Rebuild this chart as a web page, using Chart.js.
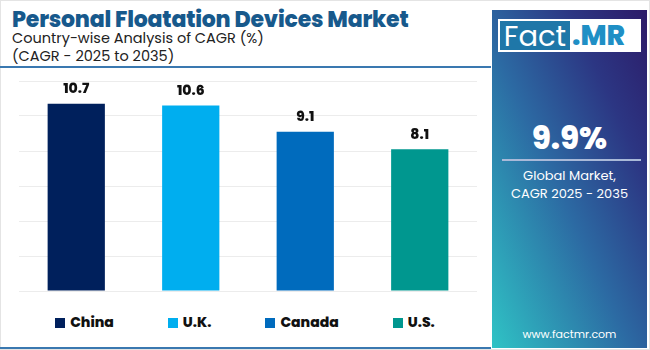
<!DOCTYPE html>
<html lang="en">
<head>
    <meta charset="UTF-8">
    <title>Personal Floatation Devices Market</title>
    <script src="https://cdn.jsdelivr.net/npm/chart.js"></script>
    <style>
        body {
            margin: 0;
            width: 650px;
            height: 350px;
            background: #fff;
            font-family: Poppins, Inter, Arial, sans-serif;
            overflow: hidden;
            position: relative;
        }
        .frame {
            position: absolute;
            left: 0; top: 0;
            width: 648px; height: 348px;
            border: 1px solid #e4e4e4;
        }
        .title {
            position: absolute;
            left: 12px; top: 3px;
            font-size: 22px;
            font-weight: 800;
            color: #17598c;
            white-space: nowrap;
            letter-spacing: -0.2px;
        }
        .sub {
            position: absolute;
            left: 12px;
            font-size: 14.5px;
            color: #222;
            white-space: nowrap;
        }
        .rule {
            position: absolute;
            left: 0; width: 491px;
            height: 2px;
            background: #3a78b0;
        }
        .chart-box {
            position: absolute;
            left: 0; top: 70px;
            width: 490px; height: 240px;
        }
        .legend {
            position: absolute;
            left: 0; top: 312px;
            width: 490px;
            display: flex;
            justify-content: center;
            gap: 54px;
            font-size: 14px;
            font-weight: 800;
            color: #111;
        }
        .legend span.box {
            display: inline-block;
            width: 10px; height: 10px;
            margin-right: 5px;
            vertical-align: -1px;
        }
        .side {
            position: absolute;
            left: 492px; top: 10px;
            width: 155px; height: 338px;
            background: linear-gradient(to top right, #2fc3c5 0%, #2c6aa3 45%, #2c3683 75%, #2c1b68 100%);
            color: #fff;
            text-align: center;
        }
        .logo {
            position: absolute;
            left: 6px; top: 9px;
            width: 143px; height: 33px;
            background: #fff;
        }
        .logo .fact {
            position: absolute;
            left: 2px; top: 2px;
            width: 70px; height: 29px;
            background: #1f77a8;
            color: #fff;
            font-size: 29px;
            line-height: 30px;
            font-weight: 400;
        }
        .logo .mr {
            position: absolute;
            left: 74px; top: 2px;
            height: 29px;
            color: #1f8fc5;
            font-size: 28px;
            line-height: 30px;
            font-weight: 800;
        }
        .big {
            position: absolute;
            left: 0; width: 155px; top: 105px;
            font-size: 31px;
            font-weight: 800;
        }
        .sline {
            position: absolute;
            left: 10px; width: 139px; top: 149px;
            height: 2px;
            background: #a9b9d8;
        }
        .gm {
            position: absolute;
            left: 0; width: 155px; top: 157px;
            font-size: 13px;
            line-height: 18px;
        }
        .url {
            position: absolute;
            left: 0; width: 155px; top: 316px;
            font-size: 11px;
        }
    </style>
</head>
<body>
    <div class="frame"></div>
    <div class="title">Personal Floatation Devices Market</div>
    <div class="sub" style="top:28px">Country-wise Analysis of CAGR (%)</div>
    <div class="sub" style="top:46px">(CAGR - 2025 to 2035)</div>
    <div class="rule" style="top:66px"></div>
    <div class="chart-box"><canvas id="cagrChart"></canvas></div>
    <div class="legend" id="legend"></div>
    <div class="rule" style="top:347px"></div>

    <div class="side">
        <div class="logo"><div class="fact">Fact</div><div class="mr">.MR</div></div>
        <div class="big">9.9%</div>
        <div class="sline"></div>
        <div class="gm">Global Market,<br>CAGR 2025 - 2035</div>
        <div class="url">www.factmr.com</div>
    </div>

    <script>
        const countries = ['China', 'U.K.', 'Canada', 'U.S.'];
        const cagr = [10.7, 10.6, 9.1, 8.1];
        const colors = ['#00205c', '#00aeef', '#006bbd', '#00978f'];
        const yMax = 12;
        const yStep = 2;

        // one dataset per country so each gets its own colour
        const datasets = countries.map((c, i) => ({
            label: c,
            data: countries.map((_, j) => j === i ? cagr[i] : null),
            backgroundColor: colors[i],
            barPercentage: 0.5,
            categoryPercentage: 1.0
        }));

        const valueLabels = {
            id: 'valueLabels',
            afterDatasetsDraw(chart) {
                const ctx = chart.ctx;
                ctx.save();
                ctx.font = '800 14px Poppins, Inter, Arial, sans-serif';
                ctx.fillStyle = '#111';
                ctx.textAlign = 'center';
                ctx.textBaseline = 'bottom';
                chart.data.datasets.forEach((ds, i) => {
                    const meta = chart.getDatasetMeta(i);
                    meta.data.forEach((bar, j) => {
                        if (ds.data[j] == null) return;
                        ctx.fillText(ds.data[j].toFixed(1), bar.x, bar.y - 7);
                    });
                });
                ctx.restore();
            }
        };

        new Chart(document.getElementById('cagrChart'), {
            type: 'bar',
            data: { labels: countries, datasets },
            options: {
                responsive: true,
                maintainAspectRatio: false,
                animation: false,
                layout: { padding: { left: 19, right: 13, top: 11, bottom: 11 } },
                plugins: {
                    legend: { display: false },
                    tooltip: { enabled: false }
                },
                datasets: { bar: { grouped: false, skipNull: true } },
                scales: {
                    x: {
                        grid: { display: false },
                        border: { display: false },
                        ticks: { display: false }
                    },
                    y: {
                        min: 0,
                        max: yMax,
                        ticks: { display: false, stepSize: yStep },
                        grid: { color: '#ececec', lineWidth: 1, drawTicks: false },
                        border: { display: false }
                    }
                }
            },
            plugins: [valueLabels]
        });

        const legend = document.getElementById('legend');
        countries.forEach((c, i) => {
            const item = document.createElement('div');
            item.innerHTML = `<span class="box" style="background:${colors[i]}"></span>${c}`;
            legend.appendChild(item);
        });
    </script>
</body>
</html>
